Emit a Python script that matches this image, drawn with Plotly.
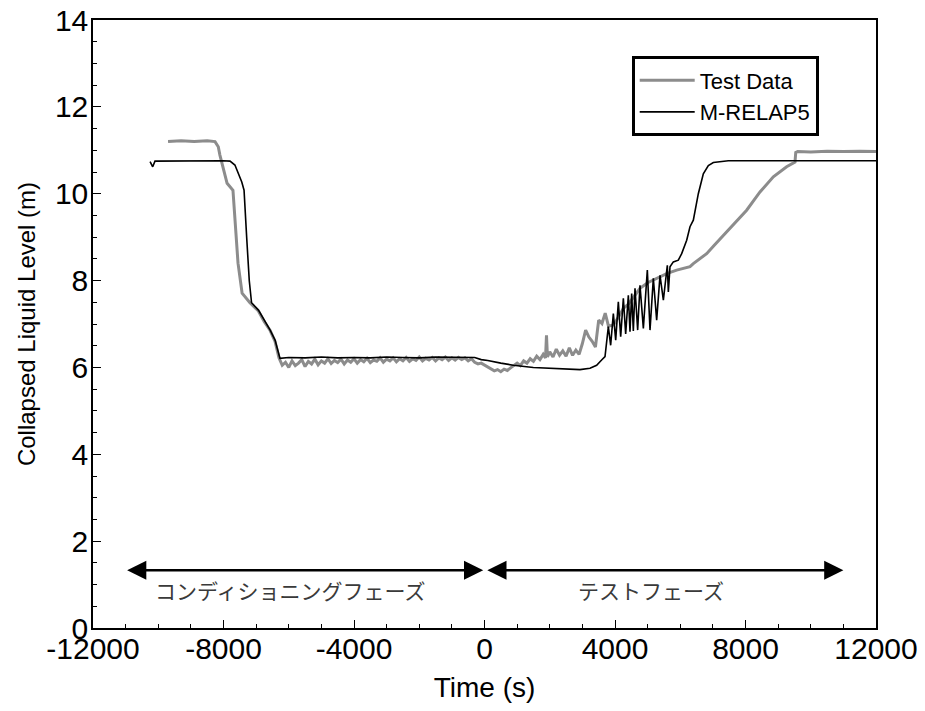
import plotly.graph_objects as go

# ---------------- data ----------------
test_time = [
    -9700, -9300, -8900, -8500, -8260, -8160, -8110, -7890, -7710, -7650, -7555, -7430, -7300, -7190,
    -6930, -6750, -6570, -6420, -6300, -6200, -6100, -6000, -5900, -5800, -5700, -5600, -5500, -5400,
    -5300, -5200, -5100, -5000, -4900, -4800, -4700, -4600, -4500, -4400, -4300, -4200, -4100, -4000,
    -3900, -3800, -3700, -3600, -3500, -3400, -3300, -3200, -3100, -3000, -2900, -2800, -2700, -2600,
    -2500, -2400, -2300, -2200, -2100, -2000, -1900, -1800, -1700, -1600, -1500, -1400, -1300, -1200,
    -1100, -1000, -900, -800, -700, -600, -500, -400, -300, -200, -100,
    0, 100, 200, 300, 400, 500, 600, 700, 800, 900, 1000, 1100, 1200, 1300, 1400, 1500, 1600, 1700,
    1800, 1870, 1900, 1930, 2000, 2100, 2200, 2300, 2400, 2500, 2600, 2700, 2800, 2900, 3000, 3100,
    3200, 3300, 3400, 3500, 3600, 3700, 3800, 3950, 4100, 4256, 4400, 4600, 4766, 5000, 5175, 5400,
    5584, 5890, 6100, 6300, 6401, 6600, 6809, 7050, 7320, 7627, 8035, 8444, 8853, 9261, 9517, 9540,
    9600, 10000, 10500, 11000, 11500, 12000,
]
test_level = [
    11.20, 11.22, 11.20, 11.22, 11.20, 11.08, 10.89, 10.24, 10.08, 9.39, 8.40, 7.71, 7.60, 7.49,
    7.30, 7.05, 6.85, 6.60, 6.22, 6.05, 6.12, 6.00, 6.15, 6.04, 6.10, 6.18, 6.02, 6.14,
    6.08, 6.19, 6.06, 6.15, 6.10, 6.20, 6.09, 6.16, 6.11, 6.19, 6.08, 6.17, 6.12, 6.20,
    6.10, 6.18, 6.13, 6.21, 6.11, 6.17, 6.14, 6.22, 6.12, 6.19, 6.15, 6.22, 6.13, 6.20,
    6.15, 6.23, 6.14, 6.20, 6.16, 6.24, 6.15, 6.21, 6.17, 6.23, 6.15, 6.22, 6.18, 6.24,
    6.16, 6.22, 6.17, 6.23, 6.18, 6.22, 6.15, 6.20, 6.12, 6.08, 6.10,
    6.05, 6.00, 5.97, 5.92, 5.95, 5.90, 5.96, 5.93, 5.99, 6.05, 6.10, 6.04, 6.15, 6.10, 6.20, 6.14,
    6.26, 6.18, 6.30, 6.22, 6.74, 6.24, 6.36, 6.24, 6.42, 6.28, 6.38, 6.26, 6.45, 6.28, 6.40, 6.30,
    6.55, 6.86, 6.70, 6.60, 6.47, 7.09, 7.01, 7.25, 6.95, 6.98, 7.15, 7.36, 7.45, 7.65, 7.82, 7.95,
    8.01, 8.10, 8.16, 8.24, 8.28, 8.32, 8.39, 8.50, 8.62, 8.82, 9.04, 9.27, 9.62, 10.04, 10.39,
    10.62, 10.73, 10.95, 10.97, 10.96, 10.98, 10.97, 10.98, 10.97,
]

relap_time = [
    -10250, -10170, -10100, -9000, -8000, -7800, -7650, -7440, -7370, -7290, -7210, -7140, -6930,
    -6570, -6420, -6270, -6000, -5500, -5000, -4500, -4000, -3500, -3000, -2500, -2000, -1500,
    -1000, -500, -300, -100, 100, 500, 883, 1496, 2213, 2927, 3234, 3437, 3590, 3694,
    3796, 3867, 3949, 4021, 4102, 4174, 4256, 4327, 4409, 4460, 4511, 4562, 4613, 4695, 4766,
    4869, 4991, 5073, 5175, 5277, 5380, 5482, 5604, 5635, 5686, 5788, 5941, 6044, 6197, 6299,
    6401, 6554, 6707, 6861, 7014, 7473, 9000, 10500, 12000,
]
relap_level = [
    10.74, 10.62, 10.75, 10.76, 10.76, 10.75, 10.66, 10.27, 10.08, 9.00, 8.00, 7.49, 7.32,
    6.86, 6.63, 6.21, 6.23, 6.22, 6.24, 6.22, 6.23, 6.22, 6.24, 6.23, 6.22, 6.24,
    6.23, 6.23, 6.23, 6.18, 6.16, 6.10, 6.05, 6.00, 5.98, 5.95, 5.98, 6.05, 6.17, 6.25,
    6.94, 6.51, 7.24, 6.63, 7.51, 6.71, 7.59, 6.77, 7.66, 6.82, 7.70, 6.84, 7.82, 6.86, 7.89,
    6.90, 8.24, 6.86, 8.05, 7.09, 8.12, 7.55, 8.35, 7.74, 8.32, 8.43, 8.47, 8.62, 8.93, 9.24,
    9.39, 10.00, 10.46, 10.65, 10.72, 10.76, 10.76, 10.76, 10.76,
]

x_tick_vals = [-12000, -8000, -4000, 0, 4000, 8000, 12000]
x_tick_text = ["-12000", "-8000", "-4000", "0", "4000", "8000", "12000"]
y_tick_vals = [0, 2, 4, 6, 8, 10, 12, 14]
y_tick_text = ["0", "2", "4", "6", "8", "10", "12", "14"]

phase_labels = ["コンディショニングフェーズ", "テストフェーズ"]
phase_start = [-11000, 40]
phase_end = [-40, 11000]
phase_label_x = [-5950, 5100]
arrow_level = 1.33
label_level = 0.87

# ---------------- figure ----------------
fig = go.Figure()
fig.add_trace(go.Scatter(x=test_time, y=test_level, mode="lines", name="Test Data",
                         line=dict(color="#8c8c8c", width=3)))
fig.add_trace(go.Scatter(x=relap_time, y=relap_level, mode="lines", name="M-RELAP5",
                         line=dict(color="#000000", width=1.6)))

for s, e in zip(phase_start, phase_end):
    fig.add_annotation(x=e, y=arrow_level, ax=s, ay=arrow_level, xref="x", yref="y",
                       axref="x", ayref="y", showarrow=True, arrowside="end+start",
                       arrowhead=2, arrowsize=1.6, arrowwidth=2.4, arrowcolor="black", text="")
for lbl, lx in zip(phase_labels, phase_label_x):
    fig.add_annotation(x=lx, y=label_level, xref="x", yref="y", text=lbl, showarrow=False,
                       font=dict(family="Noto Sans CJK JP", size=21, color="#3a3a3a"))

font_family = "Liberation Sans, Arial"
axis_font = dict(family=font_family, size=30, color="black")
fig.update_xaxes(range=[-12000, 12000], tickvals=x_tick_vals, ticktext=x_tick_text,
                 ticks="inside", ticklen=8, tickwidth=1.2, tickcolor="black",
                 minor=dict(dtick=1000, ticks="inside", ticklen=4, tickcolor="black", tickwidth=1),
                 showline=True, linecolor="black", linewidth=1.5, mirror=True,
                 showgrid=False, zeroline=False, tickfont=axis_font, automargin=False,
                 ticklabelstandoff=-7, ticklabeloverflow="allow",
                 title=dict(text="Time (s)", font=dict(family=font_family, size=28, color="black"),
                            standoff=14))
fig.update_yaxes(range=[0, 14], tickvals=y_tick_vals, ticktext=y_tick_text,
                 ticks="inside", ticklen=8, tickwidth=1.2, tickcolor="black",
                 minor=dict(dtick=0.5, ticks="inside", ticklen=4, tickcolor="black", tickwidth=1),
                 showline=True, linecolor="black", linewidth=1.5, mirror=True,
                 showgrid=False, zeroline=False, tickfont=axis_font, automargin=False,
                 ticklabelstandoff=-3, ticklabeloverflow="allow",
                 title=dict(text="Collapsed Liquid Level (m)",
                            font=dict(family=font_family, size=24, color="black"),
                            standoff=12))

fig.update_layout(
    width=925, height=711,
    margin=dict(l=93, r=49, t=20, b=83),
    plot_bgcolor="white", paper_bgcolor="white",
    showlegend=True,
    legend=dict(x=0.688, y=0.94, xanchor="left", yanchor="top",
                bgcolor="white", bordercolor="black", borderwidth=3,
                font=dict(family=font_family, size=22, color="black"),
                itemwidth=55, tracegroupgap=0),
)

fig.write_html("out.html", config={"displayModeBar": False},
               post_script="document.body.style.margin='0';document.body.style.overflow='hidden';")
